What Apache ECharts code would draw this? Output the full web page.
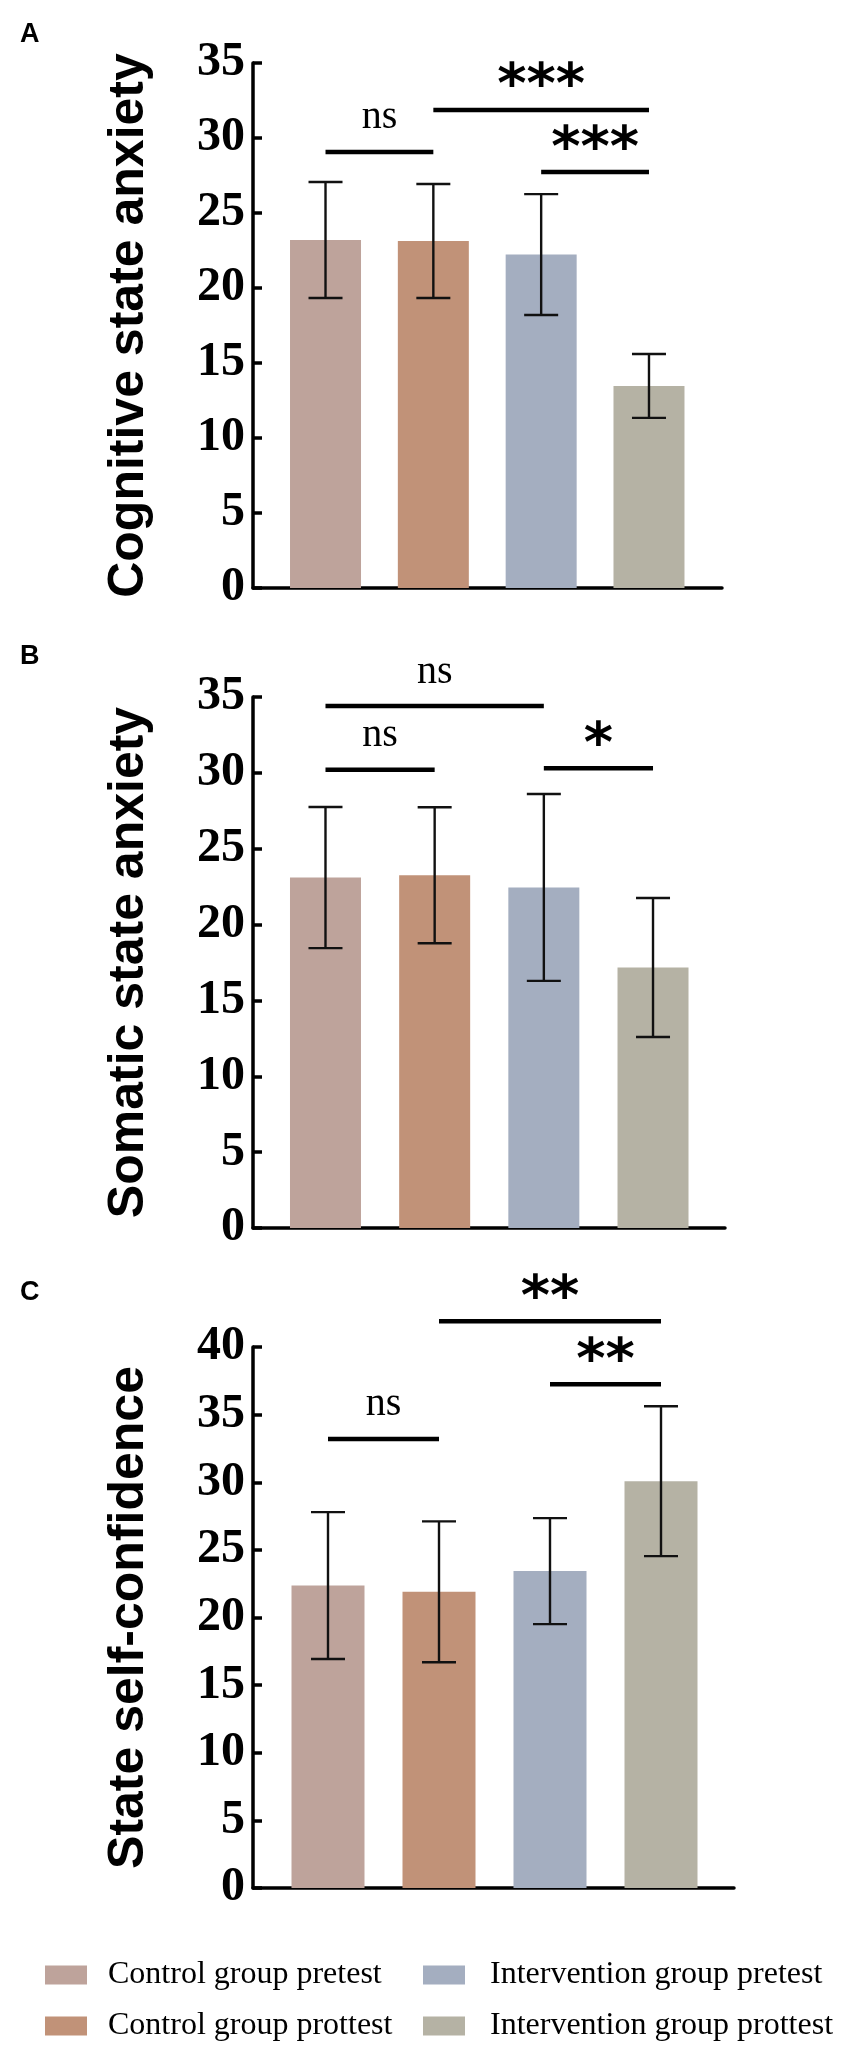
<!DOCTYPE html>
<html>
<head>
<meta charset="utf-8">
<script src="https://cdn.jsdelivr.net/npm/echarts@6/dist/echarts.min.js"></script>
<style>
  html, body { margin: 0; padding: 0; background: #fff; }
  #container { width: 847px; height: 2051px; }
</style>
</head>
<body>
<div id="container"></div>
<script>
// groups, colours
var groups = ['Control group pretest', 'Control group prottest', 'Intervention group pretest', 'Intervention group prottest'];
var colors = ['#bea39b', '#c19278', '#a4aec0', '#b5b2a4'];

// A: cognitive state anxiety
var cogMean = [23.2, 23.13, 22.23, 13.47];
var cogSd = [3.87, 3.8, 4.03, 2.13];
// B: somatic state anxiety
var somMean = [23.1, 23.25, 22.45, 17.17];
var somSd = [4.65, 4.48, 6.16, 4.58];
// C: state self-confidence
var confMean = [22.36, 21.9, 23.43, 30.08];
var confSd = [5.43, 5.21, 3.92, 5.54];

// significance bars: [from (category idx), to, y value, text]
var sigA = [[-0.08, 1.06, 29.07, 'ns'], [1.23, 3.27, 31.87, '***'], [1.97, 3.2, 27.73, '***']];
var sigB = [[-0.08, 1.96, 34.4, 'ns'], [-0.08, 1.05, 30.2, 'ns'], [1.98, 3.2, 30.3, '*']];
var sigC = [[0.77, 2.82, 41.9, '**'], [1.93, 3.16, 37.25, '**'], [-0.09, 1.05, 33.2, 'ns']];

var dom = document.getElementById('container');
var myChart = echarts.init(dom, null, { renderer: 'canvas' });

// panel layout (pixels)
var panels = [
  { name: 'Cognitive state anxiety', mean: cogMean, sd: cogSd, sig: sigA, max: 35, top: 63, height: 525, inL: 271.6, inW: 431.3, outW: 469, barW: 71, letter: 'A', letterTop: 21 },
  { name: 'Somatic state anxiety', mean: somMean, sd: somSd, sig: sigB, max: 35, top: 697, height: 531, inL: 270.9, inW: 436.7, outW: 472, barW: 71, letter: 'B', letterTop: 643 },
  { name: 'State self-confidence', mean: confMean, sd: confSd, sig: sigC, max: 40, top: 1347, height: 541, inL: 272.5, inW: 444, outW: 481, barW: 73, letter: 'C', letterTop: 1279 }
];

function errRender(params, api) {
  var x = api.value(0), m = api.value(1), s = api.value(2);
  var p1 = api.coord([x, m + s]);
  var p2 = api.coord([x, m - s]);
  var half = 17;
  var st = { stroke: '#111', lineWidth: 2.4 };
  return {
    type: 'group',
    children: [
      { type: 'line', shape: { x1: p1[0], y1: p1[1], x2: p2[0], y2: p2[1] }, style: st },
      { type: 'line', shape: { x1: p1[0] - half, y1: p1[1], x2: p1[0] + half, y2: p1[1] }, style: st },
      { type: 'line', shape: { x1: p2[0] - half, y1: p2[1], x2: p2[0] + half, y2: p2[1] }, style: st }
    ]
  };
}

function makeSigRender(list) {
  return function (params, api) {
    var s = list[params.dataIndex];
    var a = api.coord([s[0], s[2]]);
    var b = api.coord([s[1], s[2]]);
    var isNs = s[3] === 'ns';
    return {
      type: 'group',
      children: [
        { type: 'line', shape: { x1: a[0], y1: a[1], x2: b[0], y2: a[1] }, style: { stroke: '#000', lineWidth: 4.5 } },
        {
          type: 'text',
          style: {
            x: (a[0] + b[0]) / 2,
            y: isNs ? a[1] - 34 : a[1] - 22,
            text: s[3],
            align: 'center',
            verticalAlign: 'middle',
            fill: '#000',
            font: isNs ? 'normal 40px "Liberation Serif"' : 'bold 56px "DejaVu Sans"'
          }
        }
      ]
    };
  };
}

var grid = [], xAxis = [], yAxis = [], series = [], title = [];
panels.forEach(function (p, k) {
  var outer = 2 * k, inner = 2 * k + 1;
  grid.push({ left: 253, top: p.top, width: p.outW, height: p.height, outerBoundsMode: 'none' });
  grid.push({ left: p.inL, top: p.top, width: p.inW, height: p.height, outerBoundsMode: 'none' });
  // outer: y axis and full x axis line
  xAxis.push({
    gridIndex: outer, type: 'value', min: 0, max: 1,
    axisLine: { show: true, lineStyle: { color: '#000', width: 3.5 } },
    axisTick: { show: false }, axisLabel: { show: false }, splitLine: { show: false }
  });
  yAxis.push({
    gridIndex: outer, type: 'value', min: 0, max: p.max, interval: 5,
    name: p.name, nameLocation: 'middle', nameGap: 99,
    nameTextStyle: { fontFamily: 'Liberation Sans', fontWeight: 'bold', fontSize: 50, color: '#000' },
    axisLine: { show: true, lineStyle: { color: '#000', width: 3.5 } },
    axisTick: { show: true, inside: true, length: 9, lineStyle: { color: '#000', width: 3.5 } },
    axisLabel: { margin: 8, fontFamily: 'Liberation Serif', fontWeight: 'bold', fontSize: 48, color: '#000' },
    splitLine: { show: false }
  });
  // inner: categories
  xAxis.push({
    gridIndex: inner, type: 'category', data: groups, boundaryGap: true,
    axisLine: { show: false },
    axisTick: { show: true, inside: true, alignWithLabel: true, length: 7, lineStyle: { color: '#000', width: 3.5 } },
    axisLabel: { show: false }
  });
  yAxis.push({ gridIndex: inner, type: 'value', min: 0, max: p.max, show: false, splitLine: { show: false } });

  groups.forEach(function (g, i) {
    series.push({
      type: 'bar', name: g, xAxisIndex: inner, yAxisIndex: inner,
      barWidth: p.barW, barGap: '-100%',
      itemStyle: { color: colors[i] },
      data: p.mean.map(function (v, j) { return j === i ? v : '-'; })
    });
  });
  series.push({
    type: 'custom', xAxisIndex: inner, yAxisIndex: inner, z: 5,
    renderItem: errRender,
    encode: { x: 0, y: 1 },
    data: p.mean.map(function (v, j) { return [j, v, p.sd[j]]; })
  });
  series.push({
    type: 'custom', xAxisIndex: inner, yAxisIndex: inner, z: 5, clip: false,
    renderItem: makeSigRender(p.sig),
    encode: { x: 0, y: 1 },
    data: p.sig.map(function (s) { return [s[0], s[2]]; })
  });
  title.push({
    text: p.letter, left: 20, top: p.letterTop, padding: 0,
    textStyle: { fontFamily: 'Liberation Sans', fontWeight: 'bold', fontSize: 27, color: '#000' }
  });
});

var legendText = { fontFamily: 'Liberation Serif', fontSize: 32, color: '#000', lineHeight: 32 };
var option = {
  animation: false,
  backgroundColor: '#fff',
  title: title,
  grid: grid,
  xAxis: xAxis,
  yAxis: yAxis,
  legend: [
    {
      data: [groups[0], groups[1]], left: 45, top: 1959, orient: 'vertical', padding: 0,
      icon: 'rect', itemWidth: 42, itemHeight: 19, itemGap: 19, selectedMode: false,
      textStyle: Object.assign({ padding: [0, 0, 0, 16] }, legendText)
    },
    {
      data: [groups[2], groups[3]], left: 423, top: 1959, orient: 'vertical', padding: 0,
      icon: 'rect', itemWidth: 42, itemHeight: 19, itemGap: 19, selectedMode: false,
      textStyle: Object.assign({ padding: [0, 0, 0, 20] }, legendText)
    }
  ],
  series: series
};
myChart.setOption(option);
window.addEventListener('resize', function () { myChart.resize(); });
</script>
</body>
</html>
